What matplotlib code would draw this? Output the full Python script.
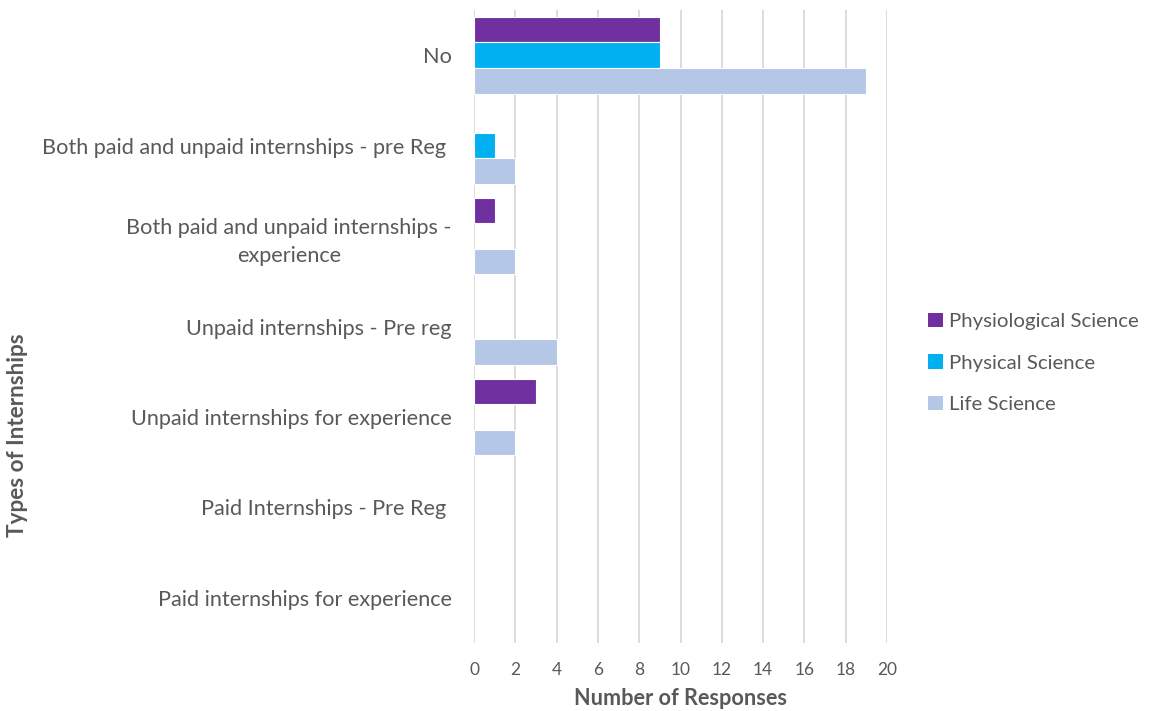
import matplotlib.pyplot as plt
from matplotlib.patches import Patch
import numpy as np

plt.rcParams['font.family'] = ['Lato', 'DejaVu Sans']

categories = [
    "No",
    "Both paid and unpaid internships - pre Reg ",
    "Both paid and unpaid internships -\nexperience",
    "Unpaid internships - Pre reg",
    "Unpaid internships for experience",
    "Paid Internships - Pre Reg ",
    "Paid internships for experience",
]
series_names = ["Physiological Science", "Physical Science", "Life Science"]
physiological = [9, 0, 1, 0, 3, 0, 0]
physical = [9, 1, 0, 0, 0, 0, 0]
life = [19, 2, 2, 4, 2, 0, 0]
colors = ["#7030A0", "#00B0F0", "#B4C7E7"]
xticks = list(range(0, 21, 2))

grey = "#595959"
W, H = 1155, 711
fig = plt.figure(figsize=(W / 100, H / 100), dpi=100)
ax = fig.add_axes([474 / W, 1 - 643 / H, (887 - 474) / W, (643 - 10) / H])

y = np.arange(len(categories))
h = 0.283
for i, (vals, c) in enumerate(zip([physiological, physical, life], colors)):
    edges = ["white" if v > 0 else "none" for v in vals]
    ax.barh(y + (i - 1) * h, vals, height=h, color=c, edgecolor=edges,
            linewidth=0.8, zorder=3)

ax.set_ylim(len(categories) - 0.5, -0.5)
ax.set_xlim(0, 20)
ax.set_xticks(xticks)
ax.set_yticks(y)
ax.set_yticklabels(categories, fontsize=15.6, color=grey, ha="right",
                   multialignment="center", linespacing=1.5)
ax.tick_params(axis="y", length=0, pad=16)
ax.tick_params(axis="x", length=0, pad=14, labelsize=12.5, labelcolor=grey)
ax.grid(axis="x", color="#D9D9D9", linewidth=1.3, zorder=0)
for s in ax.spines.values():
    s.set_visible(False)

ax.set_xlabel("Number of Responses", fontsize=15.6, fontweight="bold", color=grey,
              labelpad=7)
fig.text(18 / W, 1 - 435 / H, "Types of Internships", rotation=90, fontsize=16.2,
         fontweight="bold", color=grey, ha="center", va="center")

handles = [Patch(facecolor=c, edgecolor="none") for c in colors]
fig.legend(handles, series_names, loc="center left",
           bbox_to_anchor=(918 / W, 1 - 363 / H), frameon=False, fontsize=14.7,
           labelcolor=grey, handlelength=0.7, handleheight=0.7,
           handletextpad=0.3, labelspacing=1.2, borderaxespad=0,
           borderpad=0.5)

fig.savefig("out.png", dpi=100)
